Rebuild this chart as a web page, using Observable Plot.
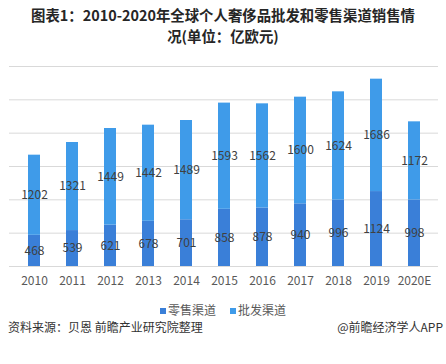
<!DOCTYPE html>
<html>
<head>
<meta charset="utf-8">
<script src="https://cdn.jsdelivr.net/npm/d3@7"></script>
<script src="https://cdn.jsdelivr.net/npm/@observablehq/plot@0.6"></script>
<style>
  html, body { margin: 0; padding: 0; background: #fff; }
  #wrap { position: relative; width: 446px; height: 364px; overflow: hidden; font-family: "Noto Sans CJK SC", "Noto Sans", sans-serif; }
  .tline { position: absolute; left: 0; width: 446px; text-align: center; font-weight: bold; font-size: 14.4px; line-height: 16px; height: 16px; color: #262626; white-space: nowrap; }
  #legend { position: absolute; left: 0; top: 303px; width: 446px; text-align: center; font-size: 12px; line-height: 14px; color: #595959; }
  #legend span.item { margin: 0 7px; }
  #legend span.sw { display: inline-block; width: 6px; height: 6px; margin-right: 2px; vertical-align: 1px; }
  #source { position: absolute; left: 8px; top: 318px; font-size: 12px; color: #333; }
  #brand { position: absolute; right: 3px; top: 318px; font-size: 12px; color: #333; }
  #chart { position: absolute; left: 0; top: 0; }
</style>
</head>
<body>
<div id="wrap">
  <div id="chart"></div>
  <div class="tline" style="top:7px">图表1：2010-2020年全球个人奢侈品批发和零售渠道销售情</div>
  <div class="tline" style="top:28px">况(单位：亿欧元)</div>
  <div id="legend"></div>
  <div id="source">资料来源：贝恩 前瞻产业研究院整理</div>
  <div id="brand">@前瞻经济学人APP</div>
</div>
<script>
const years = ["2010","2011","2012","2013","2014","2015","2016","2017","2018","2019","2020E"];
const retail = [468, 539, 621, 678, 701, 858, 878, 940, 996, 1124, 998];
const wholesale = [1202, 1321, 1449, 1442, 1489, 1593, 1562, 1600, 1624, 1686, 1172];
const seriesNames = ["零售渠道", "批发渠道"];
const seriesColors = ["#3a7fd8", "#3f9be9"];
const yTicks = [0, 500, 1000, 1500, 2000, 2500, 3000];

const data = [];
years.forEach((y, i) => {
  data.push({year: y, channel: seriesNames[0], value: retail[i]});
  data.push({year: y, channel: seriesNames[1], value: wholesale[i]});
});

const plot = Plot.plot({
  width: 446,
  height: 290,
  marginTop: 66,
  marginBottom: 24,
  marginLeft: 9,
  marginRight: 8,
  style: {background: "transparent", fontFamily: "'Noto Sans CJK SC', 'Noto Sans', sans-serif"},
  x: {domain: years, paddingInner: 0.69, paddingOuter: 0.37, label: null},
  y: {domain: [0, 3000], label: null, axis: null},
  color: {domain: seriesNames, range: seriesColors},
  marks: [
    Plot.ruleY(yTicks, {stroke: "#d9d9d9", strokeWidth: 1}),
    Plot.barY(data, {x: "year", y: "value", fill: "channel", order: seriesNames}),
    Plot.text(data, Plot.stackY({x: "year", y: "value", z: "channel", order: seriesNames, text: d => String(d.value), fill: "#404040", fontSize: 12})),
    Plot.axisX({tickSize: 0, tickPadding: 10, fontSize: 12, color: "#595959", label: null})
  ]
});
document.getElementById("chart").appendChild(plot);

const legend = document.getElementById("legend");
seriesNames.forEach((name, i) => {
  const item = document.createElement("span");
  item.className = "item";
  const sw = document.createElement("span");
  sw.className = "sw";
  sw.style.background = seriesColors[i];
  item.appendChild(sw);
  item.appendChild(document.createTextNode(name));
  legend.appendChild(item);
});
</script>
</body>
</html>
